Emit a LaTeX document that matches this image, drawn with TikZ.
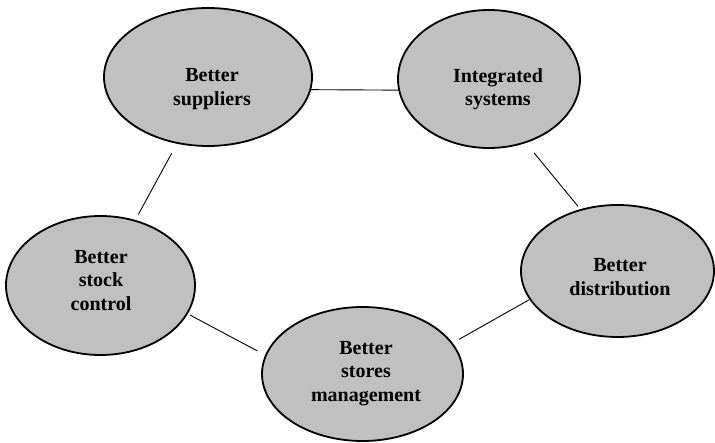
\documentclass[tikz,border=0pt]{standalone}
\usepackage{fontspec}
\setmainfont{Liberation Serif}
\usetikzlibrary{shapes.geometric}
\definecolor{bubblefill}{RGB}{192,192,192}
\begin{document}
\begin{tikzpicture}[x=1pt,y=-1pt,
  bubble/.style={ellipse,draw=black,fill=bubblefill,line width=1.8pt,inner sep=0pt},
  label/.style={align=center,font=\fontsize{20}{23.5}\selectfont\bfseries,inner sep=0pt},
  link/.style={draw=black,line width=0.9pt}]
\useasboundingbox (0,0) rectangle (715,443);
% the five bubbles
\node[bubble,minimum width=208pt,minimum height=138pt] (sup) at (208,77) {};
\node[bubble,minimum width=182pt,minimum height=138pt] (int) at (489,79) {};
\node[bubble,minimum width=189pt,minimum height=139pt] (stk) at (100.5,285.5) {};
\node[bubble,minimum width=201pt,minimum height=134pt] (sto) at (362.5,374) {};
\node[bubble,minimum width=193pt,minimum height=132pt] (dis) at (617.5,271) {};
% their captions
\node[label] (tsup) at (212,89) {Better\\suppliers};
\node[label] (tint) at (498,89) {Integrated\\systems};
\node[label] (tstk) at (101,280.4) {Better\\stock\\control};
\node[label] (tsto) at (366,373.4) {Better\\stores\\management};
\node[label] (tdis) at (620,277) {Better\\distribution};
% the ring of links
\draw[link] (sup.-7.3) -- (int.187);
\draw[link,shorten <=11pt,shorten >=6.3pt] (sup.245.9) -- (stk.62.6);
\draw[link,shorten <=12.9pt,shorten >=3.7pt] (int.300.7) -- (dis.121.7);
\draw[link,shorten <=2.4pt,shorten >=8.6pt] (stk.342.9) -- (sto.169.8);
\draw[link,shorten <=7.3pt,shorten >=0.6pt] (sto.19.6) -- (dis.198.3);
\end{tikzpicture}
\end{document}
